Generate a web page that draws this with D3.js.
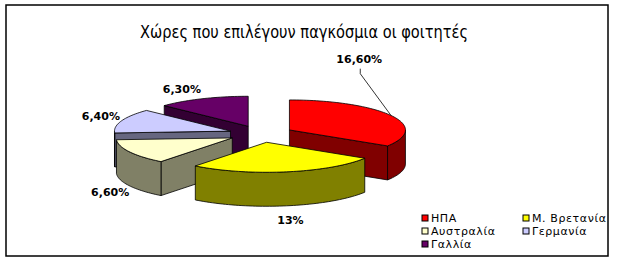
<!DOCTYPE html>
<html>
<head>
<meta charset="utf-8">
<script src="https://cdn.jsdelivr.net/npm/d3@7"></script>
<style>
  body { margin: 0; background: #fff; }
  svg { display: block; }
</style>
</head>
<body>
<div id="chart"></div>
<script>
// Data.
const categories = ['ΗΠΑ', 'Μ. Βρετανία', 'Αυστραλία', 'Γερμανία', 'Γαλλία']
const values = [16.6, 13, 6.6, 6.4, 6.3]
const valueLabels = ['16,60%', '13%', '6,60%', '6,40%', '6,30%']
const title = 'Χώρες που επιλέγουν παγκόσμια οι φοιτητές'

// Excel-ish fills: top face and the darker side.
const topColours = ['#ff0000', '#ffff00', '#ffffcc', '#ccccff', '#660066']
const sideColours = ['#800000', '#808000', '#808066', '#666680', '#330033']

const width = 618, height = 262

// Pie geometry (tilted ellipse, thickness, explosion).
const cx = 261, cy = 134, rx = 116, ry = 30, depth = 34, explode = 0.28

const svg = d3.select('#chart')
  .append('svg')
    .attr('width', width)
    .attr('height', height)

// Frame.
svg.append('rect')
  .attr('x', 6).attr('y', 5)
  .attr('width', 602).attr('height', 251)
  .attr('fill', '#fff')
  .attr('stroke', '#000')
  .attr('stroke-width', 1.5)

// Title.
svg.append('text')
  .attr('x', 304).attr('y', 38)
  .attr('text-anchor', 'middle')
  .attr('textLength', 328)
  .attr('lengthAdjust', 'spacingAndGlyphs')
  .style('font-family', 'DejaVu Sans, sans-serif')
  .style('font-size', '18px')
  .text(title)

// Angles from d3.pie, first slice at 12 o'clock, going clockwise.
const arcs = d3.pie().sort(null).startAngle(0).endAngle(2 * Math.PI)(values)

// Angle scale to ellipse point.
const sx = d3.scaleLinear().domain([-1, 1]).range([-rx, rx])
const sy = d3.scaleLinear().domain([-1, 1]).range([ry, -ry])

function point(a, r, off, dz) {
  return [cx + off[0] + sx(r * Math.sin(a)), cy + off[1] + sy(r * Math.cos(a)) + (dz || 0)]
}

function arcPoints(a0, a1, off, dz) {
  const n = Math.max(2, Math.ceil((a1 - a0) / 0.03))
  const pts = []
  for (let i = 0; i <= n; i++) {
    pts.push(point(a0 + (a1 - a0) * i / n, 1, off, dz))
  }
  return pts
}

const line = d3.line()

arcs.forEach((d, i) => {
  d.mid = (d.startAngle + d.endAngle) / 2
  d.off = [sx(explode * Math.sin(d.mid)), sy(explode * Math.cos(d.mid))]
  d.index = i
})

// Paint back to front.
const order = arcs.slice().sort((a, b) => Math.cos(b.mid) - Math.cos(a.mid))

const pie = svg.append('g')

order.forEach(d => {
  const g = pie.append('g')
  const i = d.index
  const c0 = point(0, 0, d.off)
  const c1 = point(0, 0, d.off, depth)

  const face = pts => g.append('path')
    .attr('d', line(pts) + 'Z')
    .attr('fill', sideColours[i])
    .attr('stroke', '#000')
    .attr('stroke-width', 0.8)
    .attr('stroke-linejoin', 'round')

  // Start cut face, visible when turned towards us.
  if (Math.sin(d.startAngle) < -1e-6) {
    const p = point(d.startAngle, 1, d.off)
    face([c0, p, [p[0], p[1] + depth], c1])
  }
  // End cut face.
  if (Math.sin(d.endAngle) > 1e-6) {
    const p = point(d.endAngle, 1, d.off)
    face([c0, p, [p[0], p[1] + depth], c1])
  }
  // Outer wall, front half only.
  const w0 = Math.max(d.startAngle, Math.PI / 2)
  const w1 = Math.min(d.endAngle, 3 * Math.PI / 2)
  if (w1 > w0) {
    const top = arcPoints(w0, w1, d.off)
    const bottom = arcPoints(w0, w1, d.off, depth).reverse()
    face(top.concat(bottom))
  }
  // Top face.
  g.append('path')
    .attr('d', line([c0].concat(arcPoints(d.startAngle, d.endAngle, d.off))) + 'Z')
    .attr('fill', topColours[i])
    .attr('stroke', '#000')
    .attr('stroke-width', 0.8)
    .attr('stroke-linejoin', 'round')
})

// Value labels outside the pie; the first one is pulled up with a leader line.
const labelShift = { 0: [-51, -50], 4: [-12, 3] }
const labels = svg.append('g')
  .style('font-family', 'DejaVu Sans, sans-serif')
  .style('font-size', '11px')
  .style('font-weight', 'bold')

arcs.forEach(d => {
  let x = cx + sx(Math.sin(d.mid)) * (1 + explode) + 22 * Math.sin(d.mid)
  let y = cy + sy(Math.cos(d.mid)) * (1 + explode) - 14 * Math.cos(d.mid)
  if (Math.cos(d.mid) < 0) y += depth
  const shift = labelShift[d.index]
  if (shift) {
    x += shift[0]
    y += shift[1]
  }
  if (d.index === 0) {
    const end = point(d.mid, 1, d.off)
    labels.append('path')
      .attr('d', line([[x + 1, y + 10], [x + 1, y + 15], end]))
      .attr('fill', 'none')
      .attr('stroke', '#000')
      .attr('stroke-width', 0.8)
  }
  labels.append('text')
    .attr('x', x).attr('y', y + 4)
    .attr('text-anchor', 'middle')
    .text(valueLabels[d.index])
})

// Legend, two columns.
const legend = svg.append('g')
  .style('font-family', 'DejaVu Sans, sans-serif')
  .style('font-size', '11px')

categories.forEach((name, i) => {
  const col = i % 2, row = Math.floor(i / 2)
  const x = 422 + col * 101, y = 222 + row * 13
  legend.append('rect')
    .attr('x', x).attr('y', y - 7)
    .attr('width', 6).attr('height', 6)
    .attr('fill', topColours[i])
    .attr('stroke', '#000')
    .attr('stroke-width', 1)
  legend.append('text')
    .attr('x', x + 9).attr('y', y)
    .style('letter-spacing', '0.6px')
    .text(name)
})
</script>
</body>
</html>
